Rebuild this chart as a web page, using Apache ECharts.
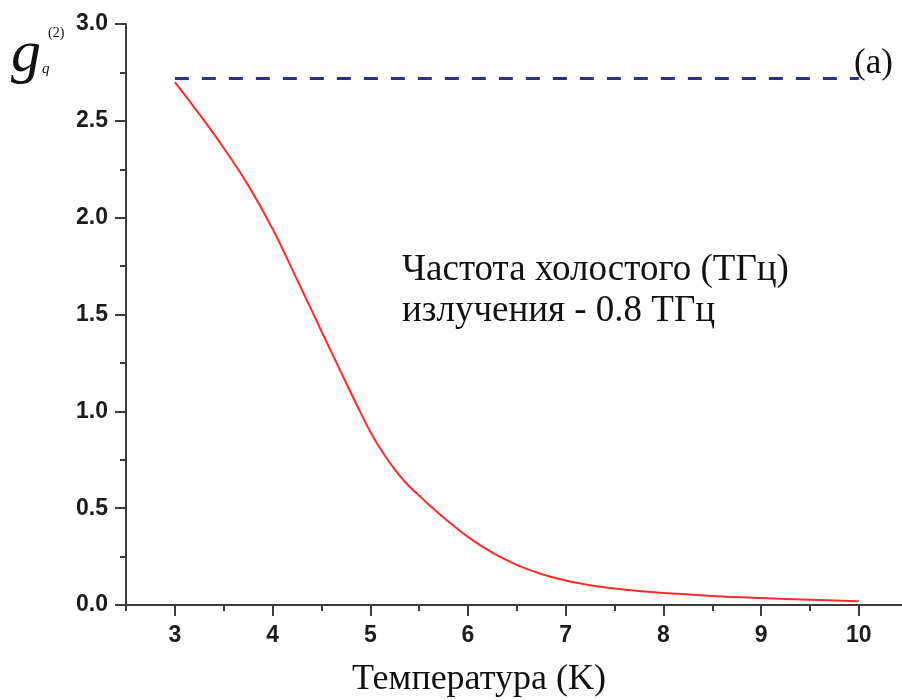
<!DOCTYPE html>
<html>
<head>
<meta charset="utf-8">
<title>g2 vs temperature</title>
<script src="https://cdn.jsdelivr.net/npm/echarts@6/dist/echarts.min.js"></script>
<style>
  html, body { margin: 0; padding: 0; background: #ffffff; }
  #chart { width: 902px; height: 700px; }
</style>
</head>
<body>
<div id="chart"></div>
<script>
// Temperature (K) and the second-order correlation g_q^(2) of the idler wave
const temperature = [3.0, 3.25, 3.5, 3.75, 4.0, 4.25, 4.5, 4.75, 4.875, 5.0, 5.125, 5.25, 5.375, 5.5, 5.75, 6.0, 6.25, 6.5, 6.75, 7.0, 7.25, 7.5, 7.75, 8.0, 8.5, 9.0, 9.5, 10.0];
const g2Values    = [2.70, 2.535, 2.36, 2.168, 1.943, 1.681, 1.415, 1.15, 1.02, 0.895, 0.79, 0.70, 0.625, 0.565, 0.452, 0.352, 0.27, 0.207, 0.16, 0.126, 0.102, 0.085, 0.072, 0.062, 0.047, 0.036, 0.027, 0.02];

// Horizontal reference level (upper limit)
const limitX = [3, 10];
const limitLevel = 2.718;

// Tick positions
const xMajorTicks = [3, 4, 5, 6, 7, 8, 9, 10];
const xMinorTicks = [2.5, 3.5, 4.5, 5.5, 6.5, 7.5, 8.5, 9.5];

// Text
const xTitle = 'Температура (K)';
const noteLines = ['Частота холостого (ТГц)', 'излучения - 0.8 ТГц'];
const panelTag = '(a)';

const axisColor = '#3c3c3c';
const labelFont = { fontFamily: 'Liberation Sans, Arial, sans-serif', fontWeight: 'bold', fontSize: 23, color: '#1c1c1c' };
const serif = 'Liberation Serif, Times New Roman, serif';

const chart = echarts.init(document.getElementById('chart'), null, { renderer: 'canvas' });

chart.setOption({
  animation: false,
  backgroundColor: '#ffffff',
  grid: { left: 126, top: 24, width: 776, height: 581, containLabel: false },
  xAxis: [
    {
      type: 'value', min: 2.5, max: 10.442,
      axisLine: { show: true, lineStyle: { color: axisColor, width: 2 } },
      axisTick: { show: true, inside: false, length: 11, customValues: xMajorTicks, lineStyle: { color: axisColor, width: 2 } },
      axisLabel: { show: true, margin: 19, customValues: xMajorTicks, ...labelFont },
      splitLine: { show: false }
    },
    {
      type: 'value', min: 2.5, max: 10.442, position: 'bottom',
      axisLine: { show: false },
      axisTick: { show: true, inside: false, length: 6, customValues: xMinorTicks, lineStyle: { color: axisColor, width: 2 } },
      axisLabel: { show: false },
      splitLine: { show: false }
    }
  ],
  yAxis: {
    type: 'value', min: 0, max: 3, interval: 0.5,
    axisLine: { show: true, lineStyle: { color: axisColor, width: 2 } },
    axisTick: { show: true, inside: false, length: 11, lineStyle: { color: axisColor, width: 2 } },
    minorTick: { show: true, splitNumber: 2, length: 6, lineStyle: { color: axisColor, width: 2 } },
    axisLabel: { margin: 18, formatter: v => v.toFixed(1), ...labelFont },
    splitLine: { show: false },
    minorSplitLine: { show: false }
  },
  series: [
    {
      name: 'limit',
      type: 'line',
      xAxisIndex: 0,
      data: limitX.map(x => [x, limitLevel]),
      symbol: 'none',
      lineStyle: { color: '#2b2f8e', width: 3, type: [14, 13] },
      z: 3
    },
    {
      name: 'g2',
      type: 'line',
      xAxisIndex: 0,
      data: temperature.map((t, i) => [t, g2Values[i]]),
      symbol: 'none',
      smooth: 0.4,
      lineStyle: { color: '#ff2a2a', width: 2 },
      z: 4
    }
  ],
  graphic: [
    // y-axis symbol g_q^(2)
    { type: 'text', left: 11, top: 25, style: { text: 'g', font: 'italic 60px ' + serif, fill: '#111' } },
    { type: 'text', left: 48, top: 26, style: { text: '(2)', font: '14px ' + serif, fill: '#111' } },
    { type: 'text', left: 42, top: 62, style: { text: 'q', font: 'italic 15px ' + serif, fill: '#111' } },
    // panel tag
    { type: 'text', left: 854, top: 46, style: { text: panelTag, font: '35px ' + serif, fill: '#111' } },
    // note
    { type: 'text', left: 402, top: 252, style: { text: noteLines[0], font: '37px ' + serif, fill: '#111' } },
    { type: 'text', left: 402, top: 293, style: { text: noteLines[1], font: '37px ' + serif, fill: '#111' } },
    // x-axis title
    { type: 'text', left: 352, top: 662, style: { text: xTitle, font: '36px ' + serif, fill: '#111' } }
  ]
});
</script>
</body>
</html>
